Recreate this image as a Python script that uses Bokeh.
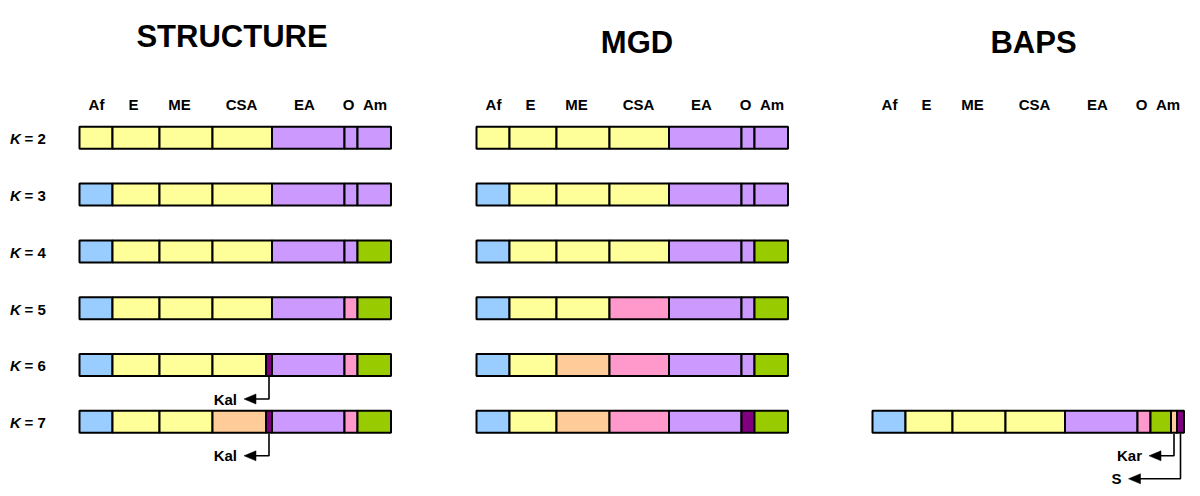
from bokeh.plotting import figure
from bokeh.models import Range1d
from bokeh.core.properties import value
from bokeh.embed import file_html
from bokeh.resources import INLINE

# ---------------- data ----------------
methods = ["STRUCTURE", "MGD", "BAPS"]
regions = ["Af", "E", "ME", "CSA", "EA", "O", "Am"]
# finest units (Kalash inside CSA, Karitiana and Surui inside America)
units = ["Af", "E", "ME", "CSA", "Kal", "EA", "O", "Am", "Kar", "S"]
unit_region = ["Af", "E", "ME", "CSA", "CSA", "EA", "O", "Am", "Am", "Am"]
unit_size = [33, 47, 53, 53.5, 6, 72.5, 13, 20.5, 6, 7]
k_values = [2, 3, 4, 5, 6, 7]

# cluster letter per unit, for each K
structure_rows = {
    2: "YYYYYPPPPP",
    3: "BYYYYPPPPP",
    4: "BYYYYPPGGG",
    5: "BYYYYPKGGG",
    6: "BYYYDPKGGG",
    7: "BYYCDPKGGG",
}
mgd_rows = {
    2: "YYYYYPPPPP",
    3: "BYYYYPPPPP",
    4: "BYYYYPPGGG",
    5: "BYYKKPPGGG",
    6: "BYCKKPPGGG",
    7: "BYCKKPDGGG",
}
baps_rows = {
    7: "BYYYYPKGCD",
}
method_rows = {"STRUCTURE": structure_rows, "MGD": mgd_rows, "BAPS": baps_rows}

# labelled outlier groups: (method, K, unit, label, level)
callouts = [
    ("STRUCTURE", 6, "Kal", "Kal", 1),
    ("STRUCTURE", 7, "Kal", "Kal", 1),
    ("BAPS", 7, "Kar", "Kar", 1),
    ("BAPS", 7, "S", "S", 2),
]

# ---------------- styles / layout ----------------
palette = {
    "B": "#99CCFF", "Y": "#FFFF99", "P": "#CC99FF", "G": "#99CC00",
    "K": "#FF99CC", "C": "#FFCC99", "D": "#800080",
}
FONT = value("Liberation Sans")
panel_x0 = {"STRUCTURE": 79, "MGD": 476, "BAPS": 872}
title_pos = {"STRUCTURE": (231.5, 36), "MGD": (636.5, 41.5), "BAPS": (1033, 41.5)}
header_baseline = 104
header_offsets = [17, 54, 100, 162, 225, 269, 295.5]
row_y0 = 137.3
row_step = 56.8
bar_h = 22
drop0, drop_step = 11, 23
arrow_len = {1: 25, 2: 52}
head_len, head_half = 12, 5

W, H = 1190, 488
p = figure(width=W, height=H, x_range=Range1d(0, W), y_range=Range1d(H, 0),
           output_backend="svg", toolbar_location=None, min_border=0)
p.axis.visible = False
p.grid.visible = False
p.outline_line_color = None
p.background_fill_color = "white"


def row_y(k):
    return row_y0 + (k - 2) * row_step


def unit_bounds(method):
    x = panel_x0[method]
    out = {}
    for u, s in zip(units, unit_size):
        out[u] = (x, x + s)
        x += s
    return out


# bars
L, R, T, B, C = [], [], [], [], []
for m in methods:
    x0 = panel_x0[m]
    for k, row in method_rows[m].items():
        y = row_y(k)
        segs = []
        x = x0
        for reg, size, col in zip(unit_region, unit_size, row):
            if segs and segs[-1][2] == reg and segs[-1][3] == col:
                segs[-1][1] += size
            else:
                segs.append([x, x + size, reg, col])
            x += size
        for left, right, reg, col in segs:
            L.append(left); R.append(right)
            T.append(y - bar_h / 2); B.append(y + bar_h / 2)
            C.append(palette[col])
p.quad(left=L, right=R, top=T, bottom=B, fill_color=C, line_color="black", line_width=2)

# titles
for m in methods:
    tx, ty = title_pos[m]
    p.text(x=[tx], y=[ty], text=[m], text_font=FONT, text_font_style="bold",
           text_font_size="31px", text_align="center", text_baseline="alphabetic",
           text_color="black")

# region headers
hx, hy, ht = [], [], []
for m in methods:
    for reg, off in zip(regions, header_offsets):
        hx.append(panel_x0[m] + off); hy.append(header_baseline); ht.append(reg)
p.text(x=hx, y=hy, text=ht, text_font=FONT, text_font_style="bold",
       text_font_size="15px", text_align="center", text_baseline="alphabetic",
       text_color="black")

# K labels
ky = [row_y(k) + 0.8 for k in k_values]
p.text(x=[9.5] * len(k_values), y=ky, text=["K"] * len(k_values), text_font=FONT,
       text_font_style="bold italic", text_font_size="15px", text_align="left",
       text_baseline="alphabetic", text_color="black")
p.text(x=[24] * len(k_values), y=ky, text=[f"= {k}" for k in k_values], text_font=FONT,
       text_font_style="bold", text_font_size="15px", text_align="left",
       text_baseline="alphabetic", text_color="black")

# callout arrows
lx, ly, px_, py_, tx_, ty_, tt = [], [], [], [], [], [], []
for m, k, u, lab, lvl in callouts:
    b = unit_bounds(m)[u]
    cx = (b[0] + b[1]) / 2
    y = row_y(k)
    yh = y + drop0 + drop_step * lvl
    tip = cx - arrow_len[lvl]
    lx.append([cx, cx, tip + head_len - 1]); ly.append([y + bar_h / 2 + 1, yh, yh])
    px_.append([tip, tip + head_len, tip + head_len]); py_.append([yh, yh - head_half, yh + head_half])
    tx_.append(tip - 7); ty_.append(yh); tt.append(lab)
p.multi_line(xs=lx, ys=ly, line_color="black", line_width=1.6)
p.patches(xs=px_, ys=py_, fill_color="black", line_color="black", line_width=0.5)
p.text(x=tx_, y=ty_, text=tt, text_font=FONT, text_font_style="bold",
       text_font_size="15px", text_align="right", text_baseline="alphabetic",
       text_color="black")

open("out.html", "w").write(file_html(p, INLINE))
